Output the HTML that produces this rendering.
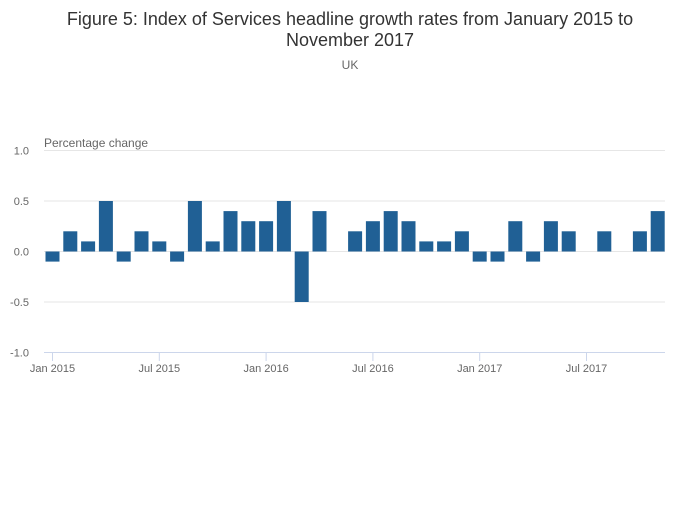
<!DOCTYPE html>
<html><head><meta charset="utf-8"><style>
body{margin:0;background:#fff;width:700px;height:502px;overflow:hidden;font-family:"Liberation Sans",sans-serif}
</style></head><body>
<svg id="chart" width="700" height="502" font-family="Liberation Sans, sans-serif">
<text x="350" y="25" text-anchor="middle" font-size="18" fill="#333">Figure 5: Index of Services headline growth rates from January 2015 to</text>
<text x="350" y="46" text-anchor="middle" font-size="18" fill="#333">November 2017</text>
<text x="350" y="69" text-anchor="middle" font-size="12" fill="#666">UK</text>
<text x="44" y="147" font-size="12" fill="#666">Percentage change</text>
<g id="grid"></g><g id="bars"></g><g id="xaxis"></g>
</svg>
<script>
const values=[-0.1,0.2,0.1,0.5,-0.1,0.2,0.1,-0.1,0.5,0.1,0.4,0.3,0.3,0.5,-0.5,0.4,0.0,0.2,0.3,0.4,0.3,0.1,0.1,0.2,-0.1,-0.1,0.3,-0.1,0.3,0.2,0.0,0.2,0.0,0.2,0.4];
const yTicks=[1.0,0.5,0.0,-0.5,-1.0];
const yTickLabels=["1.0","0.5","0.0","-0.5","-1.0"];
const xTickIdx=[0,6,12,18,24,30];
const xTickLabels=["Jan 2015","Jul 2015","Jan 2016","Jul 2016","Jan 2017","Jul 2017"];
const ns="http://www.w3.org/2000/svg";
const y=v=>251.5-v*101;
const x=i=>52.5+i*17.8;
function mk(tag,attrs,parent,txt){const e=document.createElementNS(ns,tag);for(const k in attrs)e.setAttribute(k,attrs[k]);if(txt!=null)e.textContent=txt;document.getElementById(parent).appendChild(e);return e;}
yTicks.forEach((t,i)=>{
 if(t>-1){const l=mk('line',{x1:44,x2:665,y1:y(t),y2:y(t),stroke:'#e6e6e6','stroke-width':1},'grid');
 
 }
 const tx=mk('text',{x:29,y:y(t)+4,'text-anchor':'end','font-size':11,fill:'#666'},'grid',yTickLabels[i]);
 
 
});
values.forEach((v,i)=>{
 const r=mk('rect',{x:x(i)-7,y:Math.min(y(v),y(0)),width:14,height:Math.abs(y(v)-y(0)),fill:'#206095'},'bars');
 
 
});
const ax=mk('line',{x1:44,x2:665,y1:352.5,y2:352.5,stroke:'#ccd6eb','stroke-width':1},'xaxis');


xTickIdx.forEach((idx,i)=>{
 const tk=mk('line',{x1:x(idx),x2:x(idx),y1:352,y2:361,stroke:'#ccd6eb'},'xaxis');
 
 
 const t=mk('text',{x:x(idx),y:372,'text-anchor':'middle','font-size':11,fill:'#666'},'xaxis',xTickLabels[i]);
 
 
});
</script>
</body></html>
